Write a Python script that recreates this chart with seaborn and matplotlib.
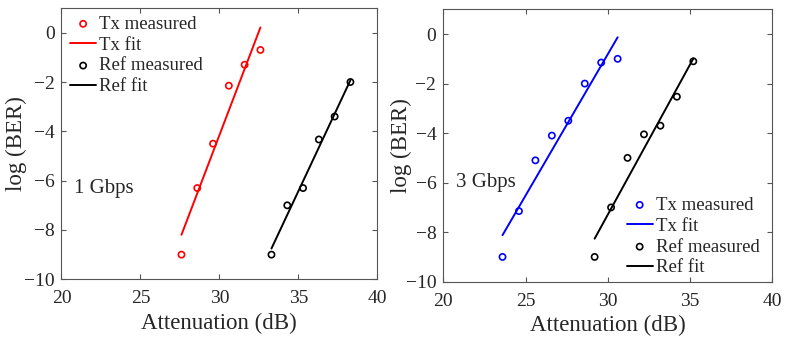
import matplotlib
matplotlib.use("Agg")
import matplotlib.pyplot as plt
import seaborn as sns
import numpy as np

# ---- data ----
tx1_att = [27.6, 28.6, 29.6, 30.6, 31.6, 32.6]
tx1_ber = [-9.0, -6.3, -4.5, -2.15, -1.3, -0.7]
ref1_att = [33.3, 34.3, 35.3, 36.3, 37.3, 38.3]
ref1_ber = [-9.0, -7.0, -6.3, -4.33, -3.4, -2.0]

tx3_att = [23.6, 24.6, 25.6, 26.6, 27.6, 28.6, 29.6, 30.6]
tx3_ber = [-9.0, -7.15, -5.1, -4.1, -3.5, -2.0, -1.15, -1.0]
ref3_att = [29.2, 30.2, 31.2, 32.2, 33.2, 34.2, 35.2]
ref3_ber = [-9.0, -7.0, -5.0, -4.05, -3.7, -2.53, -1.1]

xticks = [20, 25, 30, 35, 40]
yticks = [-10, -8, -6, -4, -2, 0]
labels = ["Tx measured", "Tx fit", "Ref measured", "Ref fit"]
rates = ["1 Gbps", "3 Gbps"]

sns.set_style("ticks")
plt.rcParams["font.family"] = ["Liberation Serif", "DejaVu Serif"]
TXT = "#262626"

fig = plt.figure(figsize=(7.85, 3.37), dpi=100)
ax1 = fig.add_axes([0.0783, 0.1712, 0.4023, 0.805])
ax2 = fig.add_axes([0.5647, 0.1641, 0.4191, 0.8083])


def panel(ax, tx_x, tx_y, ref_x, ref_y, txcol, rate, rate_y, leg_anchor, ylab_x):
    sns.scatterplot(x=tx_x, y=tx_y, ax=ax, marker="o", s=20, facecolor="none",
                    edgecolor=txcol, linewidth=1.2, label=labels[0], zorder=3)
    sns.regplot(x=tx_x, y=tx_y, ax=ax, scatter=False, ci=None, truncate=True,
                color=txcol, label=labels[1], line_kws={"linewidth": 1.4})
    sns.scatterplot(x=ref_x, y=ref_y, ax=ax, marker="o", s=20, facecolor="none",
                    edgecolor="black", linewidth=1.2, label=labels[2], zorder=3)
    sns.regplot(x=ref_x, y=ref_y, ax=ax, scatter=False, ci=None, truncate=True,
                color="black", label=labels[3], line_kws={"linewidth": 1.4})
    ax.set_xlim(20, 40)
    ax.set_ylim(-10, 1)
    ax.set_xticks(xticks)
    ax.set_yticks(yticks)
    ax.tick_params(direction="in", top=True, right=True, length=3.5, width=0.8,
                   labelsize=14, colors="#555555", labelcolor=TXT)
    ax.tick_params(axis="x", pad=8)
    ax.tick_params(axis="y", pad=5)
    for s in ax.spines.values():
        s.set_color("#555555")
        s.set_linewidth(0.8)
    ax.set_xlabel("Attenuation (dB)", fontsize=16.5, color=TXT, labelpad=4)
    ax.set_ylabel("log (BER)", fontsize=16.5, color=TXT)
    ax.yaxis.set_label_coords(ylab_x, 0.5)
    ax.text(20.8, rate_y, rate, fontsize=15, color=TXT, va="center", ha="left")
    leg = ax.legend(loc="upper left", bbox_to_anchor=leg_anchor, frameon=False,
                    fontsize=13.5, scatterpoints=1, handlelength=1.4,
                    handletextpad=0.15, labelspacing=0.2, borderpad=0,
                    borderaxespad=0)
    for t in leg.get_texts():
        t.set_color(TXT)


panel(ax1, tx1_att, tx1_ber, ref1_att, ref1_ber, "red", rates[0], -6.3,
      (0.027, 0.972), -0.109)
panel(ax2, tx3_att, tx3_ber, ref3_att, ref3_ber, "blue", rates[1], -6.0,
      (0.557, 0.312), -0.095)

fig.savefig("out.png", dpi=100)
